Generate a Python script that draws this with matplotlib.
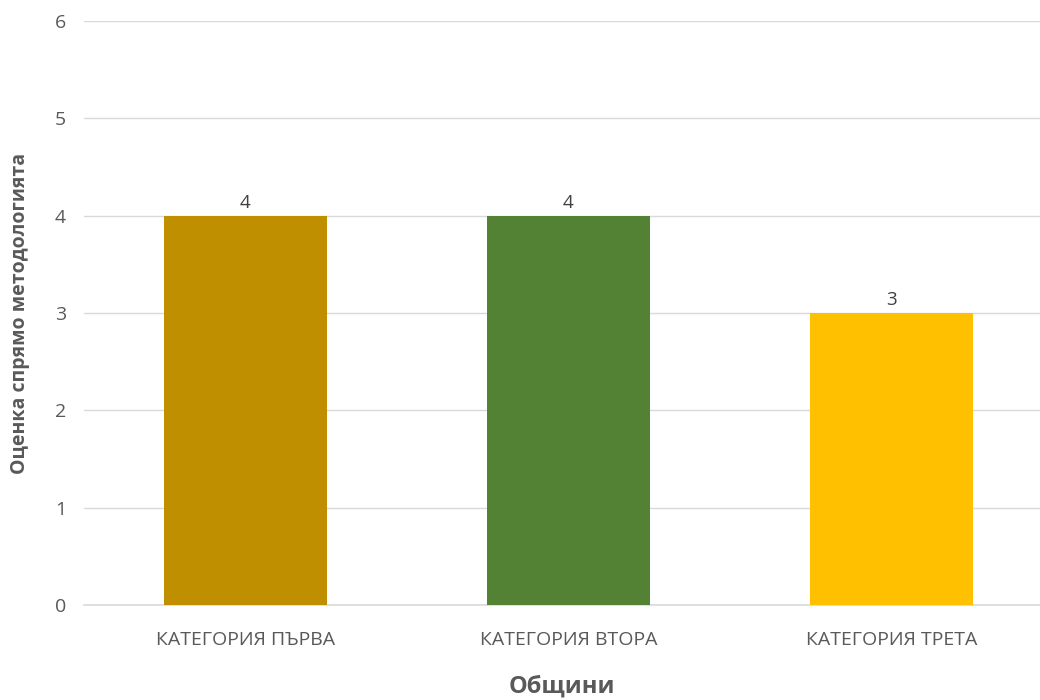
import matplotlib.pyplot as plt

plt.rcParams['font.family'] = ['Open Sans', 'DejaVu Sans']

categories = ['КАТЕГОРИЯ ПЪРВА', 'КАТЕГОРИЯ ВТОРА', 'КАТЕГОРИЯ ТРЕТА']
scores = [4, 4, 3]
colors = ['#BF8F00', '#548235', '#FFC000']

fig = plt.figure(figsize=(10.4, 7), dpi=100)
ax = fig.add_axes([84 / 1040, 95 / 700, 956 / 1040, 584 / 700])

x = range(len(categories))
bars = ax.bar(x, scores, width=0.505, color=colors, zorder=3)
for b, v in zip(bars, scores):
    ax.text(b.get_x() + b.get_width() / 2, v + 0.04, str(v),
            ha='center', va='bottom', fontsize=13.5, color='#404040')

ax.set_xlim(-0.5, 2.46)
ax.set_ylim(0, 6)
ax.set_yticks(range(0, 7))
ax.set_xticks(list(x))
ax.set_xticklabels(categories, fontsize=14, color='#595959')
ax.tick_params(axis='y', labelsize=14, labelcolor='#595959', length=0, pad=13)
ax.tick_params(axis='x', length=0, pad=19)

ax.grid(axis='y', color='#D9D9D9', linewidth=1, zorder=0)
for s in ['top', 'right', 'left']:
    ax.spines[s].set_visible(False)
ax.spines['bottom'].set_color('#D9D9D9')
ax.spines['bottom'].set_linewidth(1.2)

ax.set_xlabel('Общини', fontsize=17, fontweight='bold', color='#595959', labelpad=18)
ax.set_ylabel('Оценка спрямо методологията', fontsize=14, fontweight='bold',
              color='#595959', labelpad=18)

plt.savefig('out.png', dpi=100)
